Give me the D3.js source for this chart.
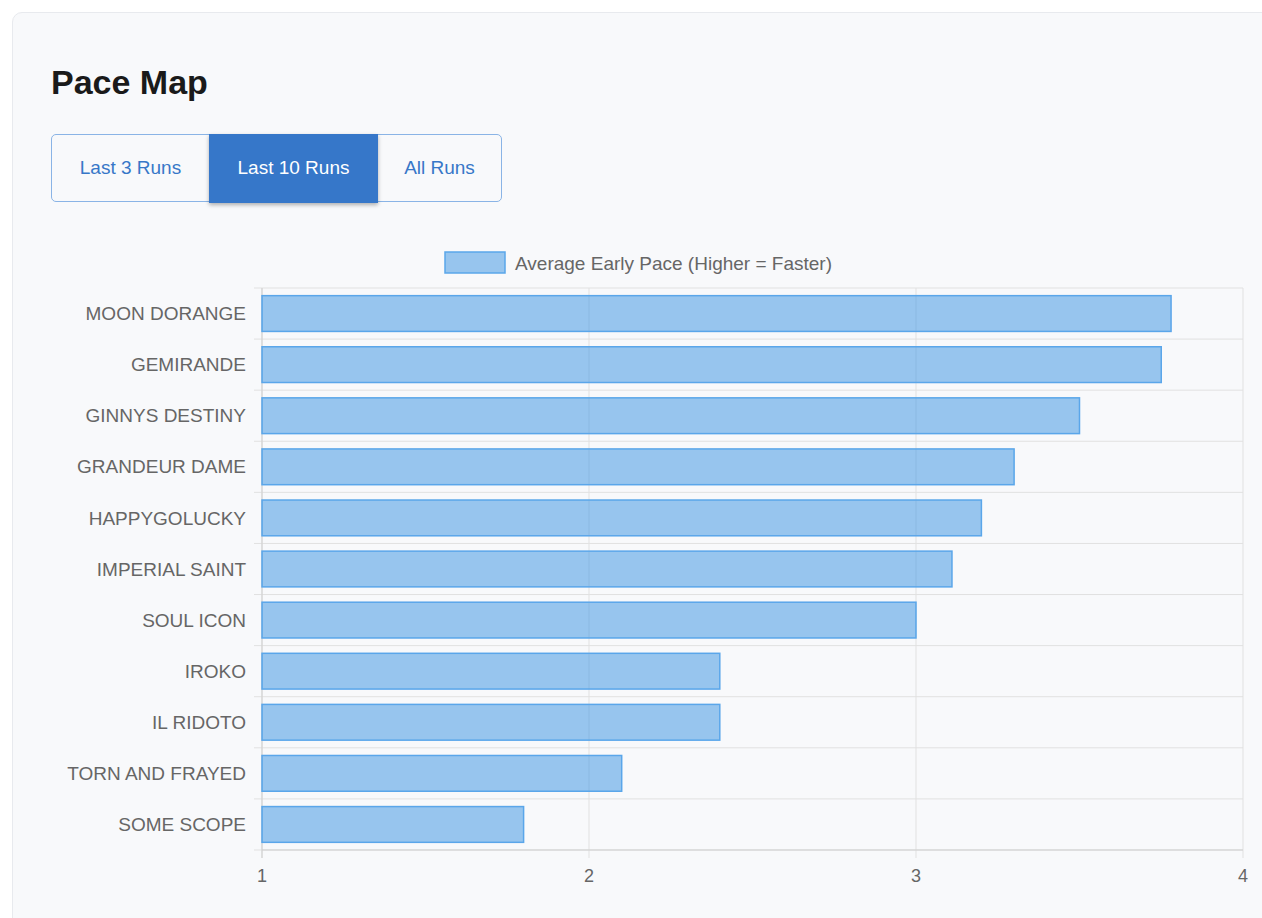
<!DOCTYPE html>
<html><head><meta charset="utf-8">
<script src="https://cdn.jsdelivr.net/npm/d3@7"></script>
<style>
body{margin:0;background:#fff;font-family:"Liberation Sans",Arial,sans-serif;}
.card{position:absolute;left:12px;top:12px;width:1262px;height:920px;background:#f8f9fb;border:1px solid #e8eaee;border-radius:10px;}
h1{position:absolute;left:38px;top:50px;margin:0;font-size:34px;font-weight:bold;color:#1a1a1a;}
.btns{position:absolute;left:38px;top:121px;height:66px;display:flex;border:1.5px solid #8ab4e6;border-radius:5px;}
.btns div{font-size:19px;color:#3777c8;display:flex;align-items:center;justify-content:center;}
.btns .on{background:#3677c9;color:#fff;box-shadow:0 2px 4px rgba(0,0,0,.3);margin:-1.5px 0;}
svg{position:absolute;left:0;top:0;}
</style></head><body>
<div class="card"><h1>Pace Map</h1>
<div class="btns"><div style="width:157px">Last 3 Runs</div><div class="on" style="width:169px">Last 10 Runs</div><div style="width:123px">All Runs</div></div></div>
<svg id="c" width="1262" height="918"></svg>
<script>
const horses=["MOON DORANGE","GEMIRANDE","GINNYS DESTINY","GRANDEUR DAME","HAPPYGOLUCKY","IMPERIAL SAINT","SOUL ICON","IROKO","IL RIDOTO","TORN AND FRAYED","SOME SCOPE"];
const pace=[3.78,3.75,3.5,3.3,3.2,3.11,3.0,2.4,2.4,2.1,1.8];
const xTicks=[1,2,3,4];
const svg=d3.select("#c");
const L=262,R=1243,T=288,B=850;
const x=d3.scaleLinear().domain([1,4]).range([L,R]);
const y=d3.scaleBand().domain(horses).range([T,B]);
const g=svg.append("g");
// grid
g.selectAll(".vg").data(xTicks).join("line").attr("x1",d=>x(d)).attr("x2",d=>x(d)).attr("y1",T).attr("y2",B+8).attr("stroke","#e1e1e1");
const hb=d3.range(horses.length+1).map(i=>T+i*y.step());
g.selectAll(".hg").data(hb).join("line").attr("x1",L-8).attr("x2",R).attr("y1",d=>d).attr("y2",d=>d).attr("stroke","#e1e1e1");
g.append("line").attr("x1",L).attr("x2",L).attr("y1",T).attr("y2",B+8).attr("stroke","#cfcfcf");
g.append("line").attr("x1",L).attr("x2",R).attr("y1",B).attr("y2",B).attr("stroke","#cfcfcf");
// bars
const bh=y.step()*0.7;
g.selectAll(".b").data(pace).join("rect").attr("x",L).attr("y",(d,i)=>y(horses[i])+(y.step()-bh)/2)
 .attr("width",d=>x(d)-L).attr("height",bh).attr("fill","rgba(54,145,225,0.5)").attr("stroke","#5aa6ea").attr("stroke-width",1.5);
// labels
g.selectAll(".yl").data(horses).join("text").attr("x",L-16).attr("y",d=>y(d)+y.bandwidth()/2).attr("dy","0.35em")
 .attr("text-anchor","end").attr("font-size",19).attr("fill","#666").text(d=>d);
g.selectAll(".xl").data(xTicks).join("text").attr("x",d=>x(d)).attr("y",B+32).attr("text-anchor","middle")
 .attr("font-size",18).attr("fill","#666").text(d=>d);
// legend
svg.append("rect").attr("x",445).attr("y",252).attr("width",60).attr("height",21).attr("fill","rgba(54,145,225,0.5)").attr("stroke","#5aa6ea").attr("stroke-width",1.5);
svg.append("text").attr("x",515).attr("y",263).attr("dy","0.35em").attr("font-size",19).attr("fill","#666").text("Average Early Pace (Higher = Faster)");
</script></body></html>
